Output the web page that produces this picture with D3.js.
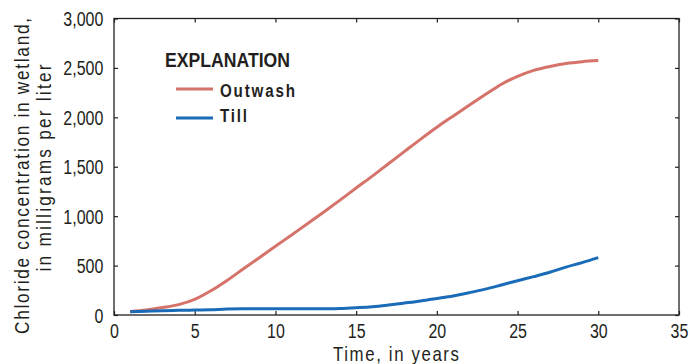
<!DOCTYPE html>
<html>
<head>
<meta charset="utf-8">
<script src="https://cdn.jsdelivr.net/npm/d3@7"></script>
<style>
body { margin:0; background:#fff; }
text { font-family: "Liberation Sans", Arial, sans-serif; fill:#231f20; }
</style>
</head>
<body>
<svg id="chart" width="690" height="364"></svg>
<script>
// years 1..30
var years = d3.range(1, 31)
var outwash = [35,50,75,105,158,245,350,465,580,695,810,925,1042,1162,1285,1405,1530,1655,1780,1900,2012,2122,2230,2335,2415,2475,2515,2545,2563,2574]
var till = [33,38,43,47,50,53,60,62,62,62,62,62,62,66,74,84,101,121,142,167,193,226,262,304,347,388,432,485,530,580]
var xTicks = [0,5,10,15,20,25,30,35]
var yTicks = [0,500,1000,1500,2000,2500,3000]
var seriesNames = ['Outwash','Till']
var seriesColors = ['#d5736a','#1a6cb8']

var margin = {left:114, right:11, top:18.5, bottom:49}
var width = 690 - margin.left - margin.right
var height = 364 - margin.top - margin.bottom
var sx = 0.82
var narrow = 'scale('+sx+',1)'

var svg = d3.select('#chart')
var g = svg.append('g').attr('transform','translate('+margin.left+','+margin.top+')')

var x = d3.scaleLinear().domain([0,35]).range([0,width])
var y = d3.scaleLinear().domain([0,3000]).range([height,0])

// frame
g.append('rect').attr('width',width).attr('height',height)
  .attr('fill','none').attr('stroke','#231f20').attr('stroke-width',1.3)

var fmt = d3.format(',')
g.append('g').attr('class','xax').attr('transform','translate(0,'+height+')')
  .call(d3.axisBottom(x).tickValues(xTicks).tickSize(-4).tickPadding(9).tickFormat(d3.format('d')))
g.append('g').attr('class','yax')
  .call(d3.axisLeft(y).tickValues(yTicks).tickSize(-4).tickPadding(13).tickFormat(fmt))
g.append('g').call(d3.axisTop(x).tickValues(xTicks).tickSize(-4).tickFormat(''))
g.append('g').attr('transform','translate('+width+',0)')
  .call(d3.axisRight(y).tickValues(yTicks).tickSize(-4).tickFormat(''))

g.selectAll('.domain').remove()
g.selectAll('.tick line').attr('stroke','#231f20').attr('stroke-width',1.2)
g.selectAll('.tick text').attr('font-size',19.5).attr('fill','#231f20')
  .style('font-family','"Liberation Sans", Arial, sans-serif')
  .attr('transform',narrow)
g.selectAll('.yax .tick text').attr('dy','0.36em')

var line = d3.line().x(function(d,i){return x(years[i])}).y(function(d){return y(d)})
  .curve(d3.curveMonotoneX)

;[outwash, till].forEach(function(s,i){
  g.append('path').datum(s).attr('d',line)
    .attr('fill','none').attr('stroke',seriesColors[i]).attr('stroke-width',3)
})

// condensed text with spacing stretched to a given length
function label(px, py, rot, str, size, len, bold){
  var t = svg.append('text')
    .attr('transform','translate('+px+','+py+') rotate('+rot+') '+narrow)
    .attr('text-anchor','middle').attr('font-size',size)
    .attr('textLength',len/sx).attr('lengthAdjust','spacing')
    .text(str)
  if (bold) t.attr('font-weight','bold')
  return t
}

// legend
svg.append('text').attr('x',165).attr('y',67).text('EXPLANATION')
  .attr('font-size',19.5).attr('font-weight','bold')
  .attr('textLength',125).attr('lengthAdjust','spacingAndGlyphs')
var lineY = [89,118], textY = [97,122], textW = [75,27]
seriesNames.forEach(function(d,i){
  svg.append('line').attr('x1',176).attr('x2',213).attr('y1',lineY[i]).attr('y2',lineY[i])
    .attr('stroke',seriesColors[i]).attr('stroke-width',3)
  label(220 + textW[i]/2, textY[i], 0, d, 18.5, textW[i], true)
})

// axis titles
label(396, 361, 0, 'Time, in years', 20.5, 126)
label(29, 176, -90, 'Chloride concentration in wetland,', 21, 316)
label(51, 168, -90, 'in milligrams per liter', 21, 207)
</script>
</body>
</html>
